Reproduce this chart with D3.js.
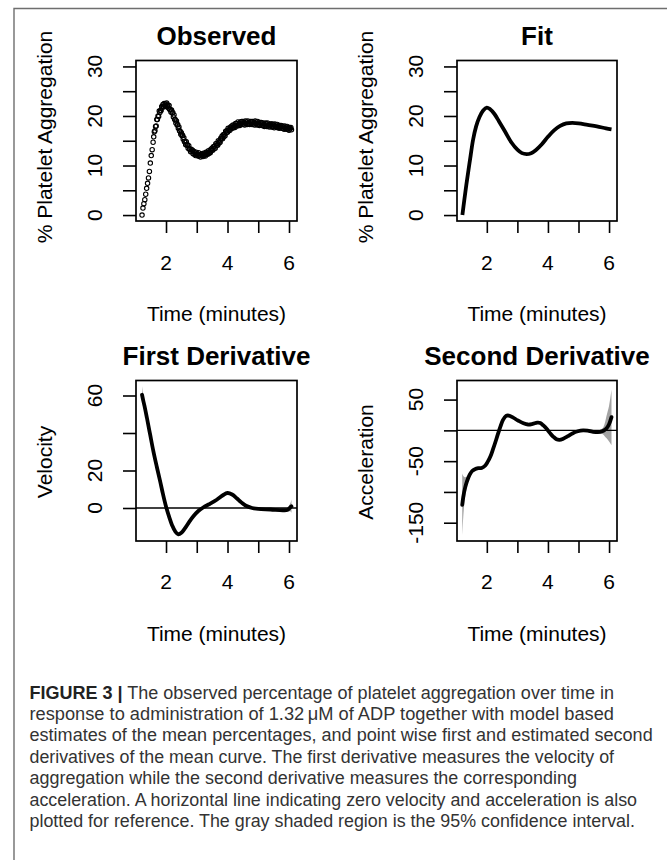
<!DOCTYPE html>
<html><head><meta charset="utf-8">
<script src="https://cdn.jsdelivr.net/npm/d3@7"></script>
<style>body{margin:0;background:#fff}svg{display:block}</style>
</head><body>
<svg id="c" width="667" height="860"></svg>
<script>
// ---------- data ----------
const obsTime = [1.22,1.25,1.28,1.31,1.34,1.37,1.40,1.43,1.46,1.49,1.52,1.55,1.58,1.60,
1.62,1.64,1.66,1.68,1.70,1.72,1.74,1.76,1.78,1.80,
1.82,1.84,1.86,1.88,1.90,1.92,1.94,1.96,1.98,2.00,
2.02,2.04,2.06,2.08,2.10,2.12,2.14,2.16,2.18,2.20,
2.22,2.24,2.26,2.28,2.30,2.32,2.34,2.36,2.38,2.40,
2.42,2.44,2.46,2.48,2.50,2.52,2.54,2.56,2.58,2.60,
2.62,2.64,2.66,2.68,2.70,2.72,2.74,2.76,2.78,2.80,
2.82,2.84,2.86,2.88,2.90,2.92,2.94,2.96,2.98,3.00,
3.02,3.04,3.06,3.08,3.10,3.12,3.14,3.16,3.18,3.20,
3.22,3.24,3.26,3.28,3.30,3.32,3.34,3.36,3.38,3.40,
3.42,3.44,3.46,3.48,3.50,3.52,3.54,3.56,3.58,3.60,
3.62,3.64,3.66,3.68,3.70,3.72,3.74,3.76,3.78,3.80,
3.82,3.84,3.86,3.88,3.90,3.92,3.94,3.96,3.98,4.00,
4.02,4.04,4.06,4.08,4.10,4.12,4.14,4.16,4.18,4.20,
4.22,4.24,4.26,4.28,4.30,4.32,4.34,4.36,4.38,4.40,
4.42,4.44,4.46,4.48,4.50,4.52,4.54,4.56,4.58,4.60,
4.62,4.64,4.66,4.68,4.70,4.72,4.74,4.76,4.78,4.80,
4.82,4.84,4.86,4.88,4.90,4.92,4.94,4.96,4.98,5.00,
5.02,5.04,5.06,5.08,5.10,5.12,5.14,5.16,5.18,5.20,
5.22,5.24,5.26,5.28,5.30,5.32,5.34,5.36,5.38,5.40,
5.42,5.44,5.46,5.48,5.50,5.52,5.54,5.56,5.58,5.60,
5.62,5.64,5.66,5.68,5.70,5.72,5.74,5.76,5.78,5.80,
5.82,5.84,5.86,5.88,5.90,5.92,5.94,5.96,5.98,6.00,
6.02,6.04,6.06,6.08];
const obsPct = [0.0,1.4,2.3,3.1,4.2,5.4,6.4,7.5,8.8,10.5,12.0,13.2,14.7,15.8,
16.8,17.0,17.9,18.0,19.3,19.3,20.0,19.9,21.0,20.7,
21.1,21.1,21.9,21.8,22.3,21.8,22.5,22.0,22.4,21.9,
22.6,22.1,22.2,21.6,22.1,21.3,21.3,20.8,21.2,20.6,
20.7,19.8,20.2,19.3,19.3,18.6,19.0,18.2,18.3,17.5,
17.8,17.0,16.9,16.3,16.6,16.0,16.1,15.3,15.6,14.8,
14.9,14.2,14.8,14.1,14.2,13.5,14.0,13.3,13.3,12.8,
13.3,12.9,13.1,12.4,12.9,12.3,12.6,12.0,12.7,12.2,
12.4,11.9,12.6,11.9,12.1,11.7,12.3,12.1,12.4,11.8,
12.5,12.0,12.3,11.9,12.7,12.3,12.7,12.3,13.0,12.5,
12.8,12.6,13.3,13.1,13.5,13.1,13.8,13.4,13.9,13.5,
14.4,14.1,14.5,14.1,15.0,14.5,14.9,14.7,15.5,15.4,
15.9,15.4,16.2,15.8,16.3,16.0,16.9,16.6,17.0,16.7,
17.5,17.0,17.3,17.1,17.8,17.6,18.0,17.5,18.2,17.7,
18.1,17.7,18.5,18.1,18.5,18.0,18.8,18.2,18.4,18.1,
18.8,18.5,18.9,18.3,18.9,18.4,18.7,18.2,19.0,18.5,
18.8,18.3,19.0,18.4,18.6,18.3,18.9,18.6,18.9,18.3,
18.9,18.4,18.7,18.2,19.0,18.5,18.8,18.2,18.9,18.3,
18.4,18.1,18.7,18.4,18.7,18.1,18.6,18.1,18.4,17.9,
18.6,18.2,18.5,17.9,18.6,18.0,18.2,17.8,18.4,18.1,
18.4,17.8,18.4,17.8,18.2,17.6,18.4,17.9,18.2,17.7,
18.3,17.7,17.9,17.5,18.1,17.8,18.1,17.5,18.0,17.5,
17.8,17.3,18.0,17.5,17.8,17.3,17.9,17.3,17.5,17.1,
17.7,17.4,17.7,17.2];

const fitTime = [1.20,1.26,1.33,1.40,1.47,1.55,1.65,1.76,1.88,2.00,2.10,2.25,2.40,2.60,2.80,3.00,3.15,3.30,3.45,3.60,3.80,4.00,4.20,4.40,4.60,4.80,5.00,5.30,5.60,5.90,6.08];
const fitPct  = [0.0,2.9,6.1,9.1,12.0,15.2,17.9,19.8,21.1,21.7,21.4,20.4,18.9,16.8,14.7,13.2,12.5,12.3,12.5,13.1,14.3,15.8,17.1,18.0,18.5,18.6,18.5,18.2,17.9,17.5,17.3];

const velTime = [1.22,1.26,1.30,1.38,1.48,1.59,1.70,1.81,1.90,2.00,2.10,2.20,2.30,2.40,2.50,2.62,2.75,2.89,3.05,3.22,3.40,3.65,3.85,4.00,4.15,4.30,4.45,4.60,4.80,5.00,5.40,5.80,5.95,6.05,6.08];
const vel   = [60.4,57.3,54.5,48.0,39.5,30.2,22.0,14.2,7.5,0.8,-4.6,-9.3,-12.5,-14.0,-13.2,-10.7,-7.5,-4.4,-1.6,0.4,2.0,4.4,6.8,8.0,7.2,5.2,3.0,1.2,0.0,-0.5,-0.8,-1.2,-1.0,0.5,0.9];
const velLo = [57.0,55.2,53.0,47.3,38.9,29.6,21.4,13.6,6.9,0.2,-5.2,-9.9,-13.1,-14.6,-13.8,-11.3,-8.1,-5.0,-2.2,-0.2,1.4,3.8,6.2,7.4,6.6,4.6,2.4,0.6,-0.6,-1.1,-1.4,-1.9,-2.0,-1.8,-2.6];
const velHi = [65.0,60.0,56.2,48.7,40.1,30.8,22.6,14.8,8.1,1.4,-4.0,-8.7,-11.9,-13.4,-12.6,-10.1,-6.9,-3.8,-1.0,1.0,2.6,5.0,7.4,8.6,7.8,5.8,3.6,1.8,0.6,0.1,-0.2,-0.5,0.2,2.8,4.6];

const accTime = [1.195,1.23,1.28,1.35,1.44,1.52,1.61,1.72,1.83,1.95,2.04,2.12,2.20,2.30,2.37,2.45,2.53,2.63,2.72,2.85,3.02,3.20,3.35,3.50,3.65,3.75,3.85,3.95,4.07,4.17,4.28,4.38,4.50,4.65,4.80,4.98,5.15,5.30,5.45,5.63,5.78,5.85,5.92,6.00,6.08];
const acc   = [-121,-108,-95,-83,-72,-66,-63,-61.5,-61,-57,-50,-42,-31,-16,-5,7,17,23.5,24,21,16,11.5,9.5,10.5,12.5,12,8,3,-4.5,-10,-14.5,-15.5,-13.5,-9.5,-5,-1.5,0,-0.5,-2,-3,-1.5,0.5,3.5,10,21.5];
const accLo = [-172,-140,-112,-91,-76,-68,-64.5,-63,-62.5,-58.5,-51.5,-43.5,-32.5,-17.5,-6.5,5.5,15.5,22,22.5,19.5,14.5,10,8,9,11,10.5,6.5,1.5,-6,-11.5,-16,-17,-15,-11,-6.5,-3,-1.5,-2,-3.5,-5,-6,-9,-13,-18,-24];
const accHi = [-70,-74,-76,-75,-68,-64,-61.5,-60,-59.5,-55.5,-48.5,-40.5,-29.5,-14.5,-3.5,8.5,18.5,25,25.5,22.5,17.5,13,11,12,14,13.5,9.5,4.5,-3,-8.5,-13,-14,-12,-8,-3.5,0,1.5,1,-0.5,-1,3,10,24,40,66];

const timeTicks = [2,3,4,5,6];
const timeLabels = [2,4,6];
const pctTicks = [0,5,10,15,20,25,30];
const pctLabels = [0,10,20,30];
const velTicks = [0,20,40,60];
const velLabels = [0,20,60];
const accTicks = [-150,-100,-50,0,50];
const accLabels = [-150,-50,50];

const titles = ["Observed","Fit","First Derivative","Second Derivative"];
const yTitles = ["% Platelet Aggregation","% Platelet Aggregation","Velocity","Acceleration"];
const xTitle = "Time (minutes)";

const captionLines = [
  " The observed percentage of platelet aggregation over time in",
  "response to administration of 1.32\u2009\u03bcM of ADP together with model based",
  "estimates of the mean percentages, and point wise first and estimated second",
  "derivatives of the mean curve. The first derivative measures the velocity of",
  "aggregation while the second derivative measures the corresponding",
  "acceleration. A horizontal line indicating zero velocity and acceleration is also",
  "plotted for reference. The gray shaded region is the 95% confidence interval."
];
const captionLabel = "FIGURE 3 |";

// ---------- drawing ----------
const FONT = "'Liberation Sans', Arial, Helvetica, sans-serif";
const svg = d3.select("#c");

svg.append("path").attr("d","M14,860V8.5H667").attr("fill","none").attr("stroke","#6e6e6e").attr("stroke-width",1.4);

const xDomain = [1.024, 6.26];
const panels = [
  {x0:136, x1:297, y0:60.5, y1:221, yDomain:[-1.2,31.2], yT:pctTicks, yL:pctLabels, titleY:45, tickLabY:270, xlabY:320.5, ylabCY:137},
  {x0:457, x1:617, y0:60.5, y1:221, yDomain:[-1.2,31.2], yT:pctTicks, yL:pctLabels, titleY:45, tickLabY:270, xlabY:320.5, ylabCY:137},
  {x0:136, x1:297, y0:380.5, y1:541, yDomain:[-17.6,68], yT:velTicks, yL:velLabels, titleY:365, tickLabY:588.5, xlabY:641, ylabCY:462},
  {x0:457, x1:617, y0:380.5, y1:541, yDomain:[-179.7,81], yT:accTicks, yL:accLabels, titleY:365, tickLabY:588.5, xlabY:641, ylabCY:462}
];

panels.forEach((p,i)=>{
  const x = d3.scaleLinear().domain(xDomain).range([p.x0,p.x1]);
  const y = d3.scaleLinear().domain(p.yDomain).range([p.y1,p.y0]);
  p.x = x; p.y = y;
  const g = svg.append("g");
  const cid = "clip"+i;
  svg.append("clipPath").attr("id",cid).append("rect")
    .attr("x",p.x0).attr("y",p.y0).attr("width",p.x1-p.x0).attr("height",p.y1-p.y0);
  p.plot = g.append("g").attr("clip-path",`url(#${cid})`);

  const ax = g.append("g").attr("transform",`translate(0,${p.y1})`)
    .call(d3.axisBottom(x).tickValues(timeTicks).tickSize(12).tickFormat(""));
  ax.select(".domain").remove();
  ax.selectAll(".tick line").attr("stroke","#000").attr("stroke-width",1.6);
  const ay = g.append("g").attr("transform",`translate(${p.x0},0)`)
    .call(d3.axisLeft(y).tickValues(p.yT).tickSize(13).tickFormat(""));
  ay.select(".domain").remove();
  ay.selectAll(".tick line").attr("stroke","#000").attr("stroke-width",1.6);

  g.selectAll(".xl").data(timeLabels).enter().append("text")
    .attr("x",d=>x(d)).attr("y",p.tickLabY).attr("text-anchor","middle")
    .attr("font-family",FONT).attr("font-size",21).text(d=>d);
  g.selectAll(".yl").data(p.yL).enter().append("text")
    .attr("transform",d=>`translate(${p.x0-34},${y(d)}) rotate(-90)`).attr("text-anchor","middle")
    .attr("font-family",FONT).attr("font-size",21).text(d=>d);

  g.append("text").attr("x",(p.x0+p.x1)/2).attr("y",p.titleY).attr("text-anchor","middle")
    .attr("font-family",FONT).attr("font-weight","bold").attr("font-size",26).text(titles[i]);
  g.append("text").attr("x",(p.x0+p.x1)/2).attr("y",p.xlabY).attr("text-anchor","middle")
    .attr("font-family",FONT).attr("font-size",21).text(xTitle);
  g.append("text").attr("transform",`translate(${p.x0-84},${p.ylabCY}) rotate(-90)`).attr("text-anchor","middle")
    .attr("font-family",FONT).attr("font-size",21).text(yTitles[i]);
});

// panel 1: observed points
{
  const p = panels[0];
  p.plot.selectAll("circle").data(obsTime.map((t,k)=>[t,obsPct[k]])).enter().append("circle")
    .attr("cx",d=>p.x(d[0])).attr("cy",d=>p.y(d[1])).attr("r",2.2)
    .attr("fill","none").attr("stroke","#000").attr("stroke-width",1.1);
}
// panel 2: fit
{
  const p = panels[1];
  const line = d3.line().x(d=>p.x(d[0])).y(d=>p.y(d[1])).curve(d3.curveCatmullRom.alpha(0.5));
  p.plot.append("path").datum(fitTime.map((t,k)=>[t,fitPct[k]])).attr("d",line)
    .attr("fill","none").attr("stroke","#000").attr("stroke-width",3.8).attr("stroke-linejoin","round");
}
function deriv(p, T, M, LO, HI){
  const area = d3.area().x(d=>p.x(d[0])).y0(d=>p.y(d[1])).y1(d=>p.y(d[2])).curve(d3.curveCatmullRom.alpha(0.5));
  p.plot.append("path").datum(T.map((t,k)=>[t,LO[k],HI[k]])).attr("d",area)
    .attr("fill","#a3a3a3").attr("stroke","none");
  const line = d3.line().x(d=>p.x(d[0])).y(d=>p.y(d[1])).curve(d3.curveCatmullRom.alpha(0.5));
  p.plot.append("path").datum(T.map((t,k)=>[t,M[k]])).attr("d",line)
    .attr("fill","none").attr("stroke","#000").attr("stroke-width",3.8).attr("stroke-linejoin","round").attr("stroke-linecap","round");
  svg.append("line").attr("x1",p.x0).attr("x2",p.x1).attr("y1",p.y(0)).attr("y2",p.y(0))
    .attr("stroke","#000").attr("stroke-width",1.4);
}
deriv(panels[2], velTime, vel, velLo, velHi);
deriv(panels[3], accTime, acc, accLo, accHi);

panels.forEach(p=>{
  svg.append("rect").attr("x",p.x0).attr("y",p.y0).attr("width",p.x1-p.x0).attr("height",p.y1-p.y0)
    .attr("fill","none").attr("stroke","#000").attr("stroke-width",1.7);
});

// caption
const capX = 29.5;
const capBase = [698.5,719.9,741.3,762.7,784.1,805.5,826.9];
const capEnd = [614,614,652.7,614,577,637,635];
captionLines.forEach((s,i)=>{
  const t = svg.append("text").attr("x",capX).attr("y",capBase[i])
    .attr("font-family",FONT).attr("font-size",17.5).attr("fill","#333");
  if(i===0){
    t.append("tspan").attr("font-weight","bold").attr("fill","#222").text(captionLabel);
  }
  t.append("tspan").text(s);
  t.attr("textLength",capEnd[i]-capX).attr("lengthAdjust","spacingAndGlyphs");
});
</script>
</body></html>
